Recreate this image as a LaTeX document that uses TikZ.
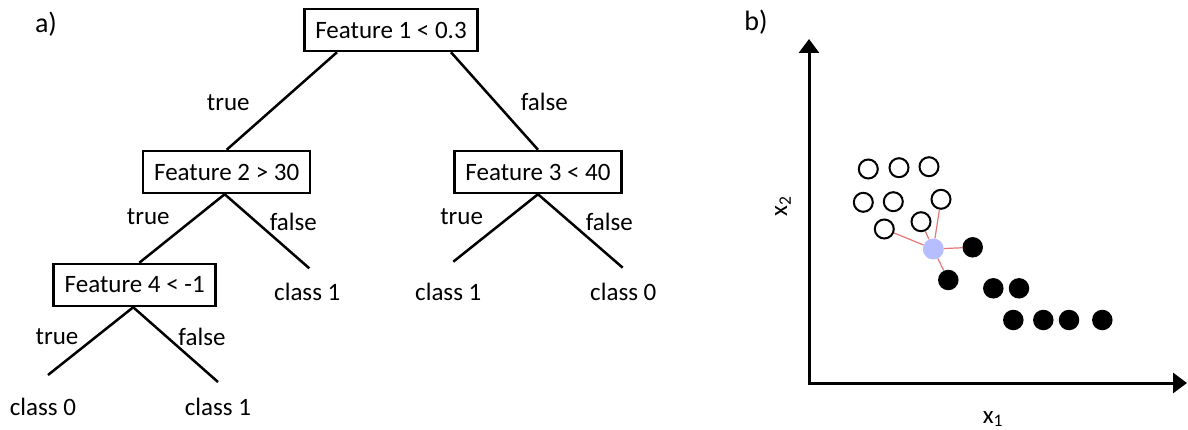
\documentclass[tikz,border=0pt]{standalone}
\usepackage{fontspec}
\setmainfont{Carlito}
\usetikzlibrary{arrows.meta}
\definecolor{querycol}{RGB}{182,190,255}
\definecolor{linkcol}{RGB}{228,120,120}
\begin{document}
\begin{tikzpicture}[x=1pt,y=-1pt,
  every node/.style={font=\fontsize{25}{30}\selectfont},
  test/.style={draw, line width=2.5pt, inner xsep=11pt, inner ysep=0pt, minimum height=42pt},
  branch/.style={line width=2.5pt},
  lbl/.style={inner sep=0pt},
  tag/.style={inner sep=0pt, font=\fontsize{28}{32}\selectfont},
  axis/.style={line width=3pt, {Triangle[length=14pt,width=20pt]}-{Triangle[length=14pt,width=20pt]}},
  opendot/.style={circle, draw, line width=2pt, fill=white, inner sep=0pt, minimum size=19pt},
  fulldot/.style={circle, fill=black, inner sep=0pt, minimum size=20.5pt},
  query/.style={circle, fill=querycol, inner sep=0pt, minimum size=21pt},
  link/.style={linkcol, line width=1.2pt}
]
\useasboundingbox (0,0) rectangle (1188,430);

% ---------- a) decision tree ----------
\node[tag] (tagA) at (46,24) {a)};

\node[test] (b1) at (391,30)    {Feature 1 < 0.3};
\node[test] (b2) at (226.7,172) {Feature 2 > 30};
\node[test] (b3) at (538,172)   {Feature 3 < 40};
\node[test] (b4) at (134.7,285) {Feature 4 < -1};

\coordinate (l21) at (309.3,268.3);
\coordinate (l30) at (453.3,261.7);
\coordinate (l31) at (622.7,267.7);
\coordinate (l40) at (48,375);
\coordinate (l41) at (218,382);

\draw[branch] ([xshift=-54pt]b1.south) -- (b2.north);
\draw[branch] ([xshift=60pt]b1.south) -- (b3.north);
\draw[branch] ([xshift=-2pt]b2.south) -- ([xshift=4.6pt]b4.north);
\draw[branch] ([xshift=-2pt]b2.south) -- (l21);
\draw[branch] (b3.south) -- (l30);
\draw[branch] (b3.south) -- (l31);
\draw[branch] ([xshift=-1.5pt]b4.south) -- (l40);
\draw[branch] ([xshift=-1.5pt]b4.south) -- (l41);

\node[lbl] (t1) at (228.3,102.7) {true};
\node[lbl] (f1) at (544.3,102)   {false};
\node[lbl] (t2) at (148.3,216.7) {true};
\node[lbl] (f2) at (293.3,222.3) {false};
\node[lbl] (t3) at (461.7,216.7) {true};
\node[lbl] (f3) at (609.3,222.3) {false};
\node[lbl] (t4) at (57,337)      {true};
\node[lbl] (f4) at (202,337)     {false};

\node[lbl] (c21) at (307.3,291.7) {class 1};
\node[lbl] (c30) at (448.3,291.7) {class 1};
\node[lbl] (c31) at (623.3,291.7) {class 0};
\node[lbl] (c40) at (43,407)      {class 0};
\node[lbl] (c41) at (218,407)     {class 1};

% ---------- b) nearest neighbours ----------
\node[tag] (tagB) at (756,22) {b)};

\coordinate (O) at (809,383);
\coordinate (ytip) at (809,39);
\coordinate (xtip) at (1187,383);
\draw[axis] (ytip) -- (O) -- (xtip);

\node[lbl] (xl1) at (993,419) {x\textsubscript{1}};
\node[lbl, rotate=90] (xl2) at (783,206) {x\textsubscript{2}};

% class 0 samples (open)
\node[opendot] (o1) at (868.3,169)   {};
\node[opendot] (o2) at (899,167.7)   {};
\node[opendot] (o3) at (929,166.7)   {};
\node[opendot] (o4) at (863.3,202.3) {};
\node[opendot] (o5) at (893.3,201.7) {};
\node[opendot] (o6) at (941,199.3)   {};
\node[opendot] (o7) at (884.3,229)   {};
\node[opendot] (o8) at (921,221.7)   {};

% class 1 samples (filled)
\node[fulldot] (p1) at (972.7,247.3)  {};
\node[fulldot] (p2) at (948.3,280)    {};
\node[fulldot] (p3) at (993.3,288.3)  {};
\node[fulldot] (p4) at (1019,288.3)   {};
\node[fulldot] (p5) at (1013.3,320)   {};
\node[fulldot] (p6) at (1043.3,320)   {};
\node[fulldot] (p7) at (1069,320)     {};
\node[fulldot] (p8) at (1102.3,320)   {};

% query point and its five nearest neighbours
\node[query] (q) at (933.3,249) {};
\foreach \n in {o6,o7,o8,p1,p2}
  \draw[link] (q) -- (\n);
\end{tikzpicture}
\end{document}
